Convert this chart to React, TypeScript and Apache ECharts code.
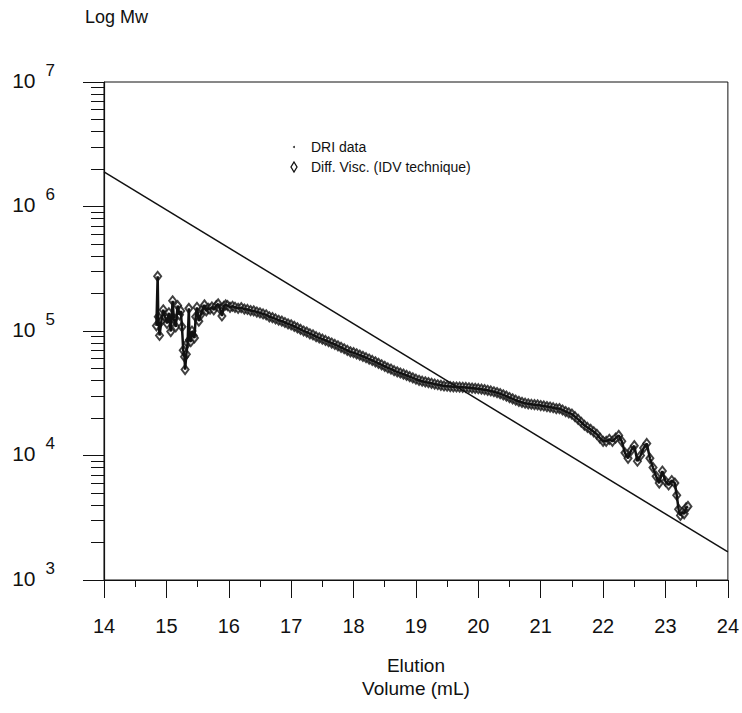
import React, { useEffect, useRef } from "react";
import * as echarts from "echarts";

const elution: number[] = [
  14.84, 14.86, 14.87, 14.89, 14.92, 14.95, 14.98, 15.01, 15.04, 15.07, 15.1, 15.12, 15.15, 15.18, 15.21, 15.23,
  15.25, 15.27, 15.29, 15.3, 15.32, 15.34, 15.36, 15.37, 15.39, 15.41, 15.43, 15.45, 15.47, 15.49, 15.52, 15.55,
  15.58, 15.61, 15.64, 15.67, 15.7, 15.73, 15.76, 15.8, 15.83, 15.86, 15.89, 15.92, 15.95, 15.98, 16.02, 16.06,
  16.1, 16.15, 16.2, 16.25, 16.3, 16.35, 16.4, 16.45, 16.5, 16.55, 16.6, 16.65, 16.7, 16.75, 16.8, 16.85, 16.9,
  16.95, 17.0, 17.05, 17.1, 17.15, 17.2, 17.25, 17.3, 17.35, 17.4, 17.45, 17.5, 17.55, 17.6, 17.65, 17.7, 17.75,
  17.8, 17.85, 17.9, 17.95, 18.0, 18.05, 18.1, 18.15, 18.2, 18.25, 18.3, 18.35, 18.4, 18.45, 18.5, 18.55, 18.6,
  18.65, 18.7, 18.75, 18.8, 18.85, 18.9, 18.95, 19.0, 19.05, 19.1, 19.15, 19.2, 19.25, 19.3, 19.35, 19.4, 19.45,
  19.5, 19.55, 19.6, 19.65, 19.7, 19.75, 19.8, 19.85, 19.9, 19.95, 20.0, 20.05, 20.1, 20.15, 20.2, 20.25, 20.3,
  20.35, 20.4, 20.45, 20.5, 20.55, 20.6, 20.65, 20.7, 20.75, 20.8, 20.85, 20.9, 20.95, 21.0, 21.05, 21.1, 21.15,
  21.2, 21.25, 21.3, 21.35, 21.4, 21.45, 21.5, 21.55, 21.6, 21.65, 21.7, 21.75, 21.8, 21.85, 21.9, 21.95, 22.0,
  22.05, 22.1, 22.15, 22.2, 22.25, 22.3, 22.35, 22.4, 22.45, 22.5, 22.55, 22.6, 22.65, 22.7, 22.75, 22.8, 22.85,
  22.9, 22.95, 23.0, 23.05, 23.1, 23.15, 23.18, 23.21, 23.24, 23.27, 23.3, 23.33, 23.36,
];

const mw: number[] = [
  110000, 275000, 130000, 92000, 120000, 148000, 130000, 115000, 140000, 99000, 175000, 125000, 108000, 160000,
  135000, 145000, 108000, 70000, 62000, 49000, 65000, 80000, 152000, 85000, 82000, 100000, 92000, 88000, 130000,
  155000, 120000, 135000, 150000, 162000, 145000, 152000, 150000, 156000, 148000, 160000, 165000, 150000, 132000,
  158000, 162000, 160000, 155000, 158000, 155000, 152000, 154000, 150000, 149000, 146000, 145000, 142000, 140000,
  137000, 135000, 130000, 128000, 125000, 122000, 120000, 117000, 114000, 112000, 109000, 106000, 103000, 100000,
  98000, 95000, 93000, 90000, 88000, 86000, 84000, 82000, 80000, 78000, 76000, 74000, 72000, 70000, 68000, 67000,
  65500, 64000, 62500, 61000, 59500, 58000, 56500, 55000, 53500, 52000, 50500, 49500, 48000, 47000, 46000, 45000,
  44000, 43000, 42000, 41000, 40200, 39500, 39000, 38500, 38000, 37500, 37000, 36600, 36200, 36000, 35800, 35600,
  35500, 35400, 35300, 35200, 35000, 34800, 34600, 34400, 34100, 33800, 33400, 33000, 32500, 32000, 31400, 30700,
  30000, 29200, 28500, 27800, 27200, 26700, 26300, 26000, 25800, 25600, 25500, 25200, 25000, 24700, 24500, 24200,
  23800, 23800, 23200, 22500, 22000, 21500, 20500, 19500, 18500, 17500, 16800, 16200, 15500, 14800, 13800, 13000,
  13000, 13500, 13000, 13800, 14500, 13000, 10500, 9500, 11000, 12000, 9000, 10000, 11500, 12500, 9500, 8000, 6800,
  6000, 7500, 6200, 5800, 6300, 6000, 4800, 3700, 3300, 3500, 3400, 3800, 3900,
];

const lineX: number[] = [14, 24];
const lineY: number[] = [1.9e6, 1.68e3];

const xTicks: number[] = [14, 15, 16, 17, 18, 19, 20, 21, 22, 23, 24];
const yMinorTicks: number[] = [];
for (let d = 3; d < 7; d++) {
  for (let k = 2; k <= 9; k++) yMinorTicks.push(k * Math.pow(10, d));
}

const FONT = "Liberation Sans, Arial, Helvetica, sans-serif";

export default function App() {
  const ref = useRef<HTMLDivElement>(null);
  useEffect(() => {
    if (!ref.current) return;
    const chart = echarts.init(ref.current, undefined, { renderer: "svg" });
    chart.setOption({
      animation: false,
      backgroundColor: "#fff",
      grid: { left: 104, top: 82, width: 628, height: 498, show: true, borderColor: "#111", borderWidth: 1 },
      xAxis: {
        type: "value",
        min: 14,
        max: 24,
        interval: 1,
        name: "Elution\nVolume (mL)",
        nameLocation: "middle",
        nameGap: 74,
        nameTextStyle: { fontFamily: FONT, fontSize: 19, color: "#111", lineHeight: 23 },
        axisLine: { lineStyle: { color: "#111", width: 1.2 } },
        axisTick: { show: true, inside: false, length: 18, lineStyle: { color: "#111" } },
        minorTick: { show: true, splitNumber: 2, length: 7, lineStyle: { color: "#111" } },
        splitLine: { show: false },
        axisLabel: {
          margin: 36,
          fontFamily: FONT,
          fontSize: 20,
          color: "#111",
          customValues: xTicks,
        },
      },
      yAxis: [
        {
          type: "log",
          logBase: 10,
          min: 1e3,
          max: 1e7,
          axisLine: { lineStyle: { color: "#111", width: 1.2 } },
          axisTick: { show: true, inside: false, length: 21, lineStyle: { color: "#111" } },
          splitLine: { show: false },
          axisLabel: {
            margin: 49,
            formatter: (v: number) => `{b|10}{e|${Math.round(Math.log10(v))}}`,
            rich: {
              b: { fontFamily: FONT, fontSize: 21, color: "#111", padding: [0, 0, 4, 0] },
              e: { fontFamily: FONT, fontSize: 17, color: "#111", padding: [0, 0, 24, 10] },
            },
          },
        },
        {
          type: "log",
          logBase: 10,
          min: 1e3,
          max: 1e7,
          position: "left",
          axisLine: { show: false },
          axisTick: { show: true, inside: false, length: 13, customValues: yMinorTicks, lineStyle: { color: "#111" } },
          axisLabel: { show: false },
          splitLine: { show: false },
        },
      ],
      graphic: [
        {
          type: "text",
          left: 85,
          top: 8,
          style: { text: "Log Mw", fontFamily: FONT, fontSize: 18, fill: "#111" },
        },
        { type: "circle", shape: { cx: 294, cy: 147, r: 1 }, style: { fill: "#333" } },
        {
          type: "text",
          x: 311,
          y: 147,
          style: { text: "DRI data", fontFamily: FONT, fontSize: 14, fill: "#111", verticalAlign: "middle" },
        },
        {
          type: "polygon",
          shape: { points: [[294, 162], [297, 167], [294, 172], [291, 167]] },
          style: { fill: "none", stroke: "#111", lineWidth: 1.3 },
        },
        {
          type: "text",
          x: 311,
          y: 167,
          style: {
            text: "Diff. Visc. (IDV technique)",
            fontFamily: FONT,
            fontSize: 14,
            fill: "#111",
            verticalAlign: "middle",
          },
        },
      ],
      series: [
        {
          name: "Calibration",
          type: "line",
          data: lineX.map((x, i) => [x, lineY[i]]),
          showSymbol: false,
          lineStyle: { color: "#111", width: 1.5 },
          silent: true,
        },
        {
          name: "DRI data",
          type: "line",
          data: elution.map((x, i) => [x, mw[i]]),
          showSymbol: false,
          lineStyle: { color: "#111", width: 2.5 },
          silent: true,
        },
        {
          name: "Diff. Visc. (IDV technique)",
          type: "scatter",
          data: elution.map((x, i) => [x, mw[i]]),
          symbol: "emptyDiamond",
          symbolSize: [7, 9],
          itemStyle: { color: "#111", borderColor: "#111", borderWidth: 1.8 },
          silent: true,
        },
      ],
    });
    return () => chart.dispose();
  }, []);
  return <div ref={ref} style={{ width: 742, height: 713, position: "absolute", left: 0, top: 0 }} />;
}
